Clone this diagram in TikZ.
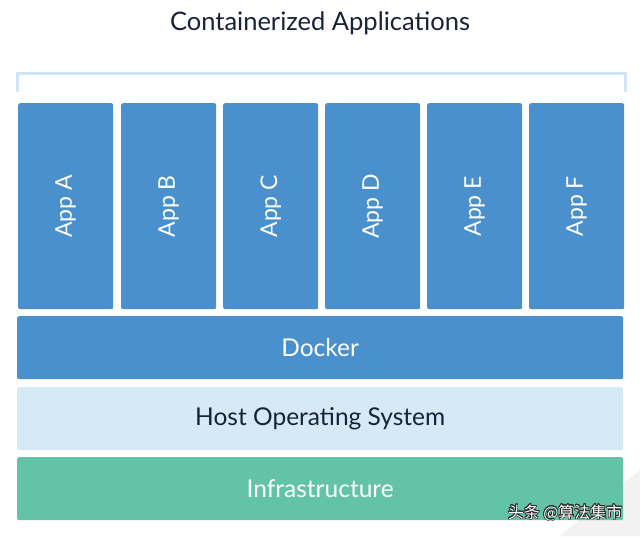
\documentclass[tikz,border=0pt]{standalone}
\usepackage{fontspec}
\usepackage{contour}
\contourlength{0.7pt}
\setmainfont{Lato}
\newfontfamily\cjk{Noto Sans CJK SC}
\definecolor{appblue}{HTML}{4A90CD}
\definecolor{hostblue}{HTML}{D6E9F7}
\definecolor{infra}{HTML}{63C3A6}
\definecolor{navy}{HTML}{16233A}
\definecolor{bracketc}{HTML}{D2E5F4}
\begin{document}
\begin{tikzpicture}[x=1pt,y=-1pt,
  layer/.style={rounded corners=2pt,inner sep=0pt,anchor=north west},
  appbox/.style={layer,fill=appblue,minimum width=95pt,minimum height=206pt},
  bigtext/.style={font=\fontsize{24.5}{28}\selectfont},
  applabel/.style={rotate=90,text=white,font=\fontsize{23}{26}\selectfont},
  wmtext/.style={anchor=east,font=\cjk\fontsize{16}{18}\selectfont}]
\useasboundingbox (0,0) rectangle (640,536);
\fill[white] (0,0) rectangle (640,536);
\fill[gray!10] (640,470) -- (640,536) -- (560,536) -- cycle;
\node[font=\fontsize{25.5}{30}\selectfont,text=navy] (title) at (320,23) {Containerized Applications};
\draw[bracketc,line width=3pt] (17,92) -- (17,73) -- (625,73) -- (625,92);
\foreach \n/\x/\l in {a/18/A,b/121/B,c/223/C,d/325/D,e/427/E,f/529/F}{
  \node[appbox] (app\n) at (\x,103) {};
  \node[applabel] (lbl\n) at (app\n.center) {App \l};
}
\node[layer,fill=appblue,minimum width=606pt,minimum height=63pt] (docker) at (17,316) {};
\node[text=white,bigtext] (dockerl) at (docker.center) {Docker};
\node[layer,fill=hostblue,minimum width=606pt,minimum height=63pt] (host) at (17,387) {};
\node[text=navy,bigtext] (hostl) at (host.center) {Host Operating System};
\node[layer,fill=infra,minimum width=606pt,minimum height=63pt] (infra) at (17,457) {};
\node[text=white,bigtext] (infral) at (infra.center) {Infrastructure};
\node[wmtext,text=white] (wm) at (626,513) {\contour{black!85}{头条 @算法集市}};
\end{tikzpicture}
\end{document}
